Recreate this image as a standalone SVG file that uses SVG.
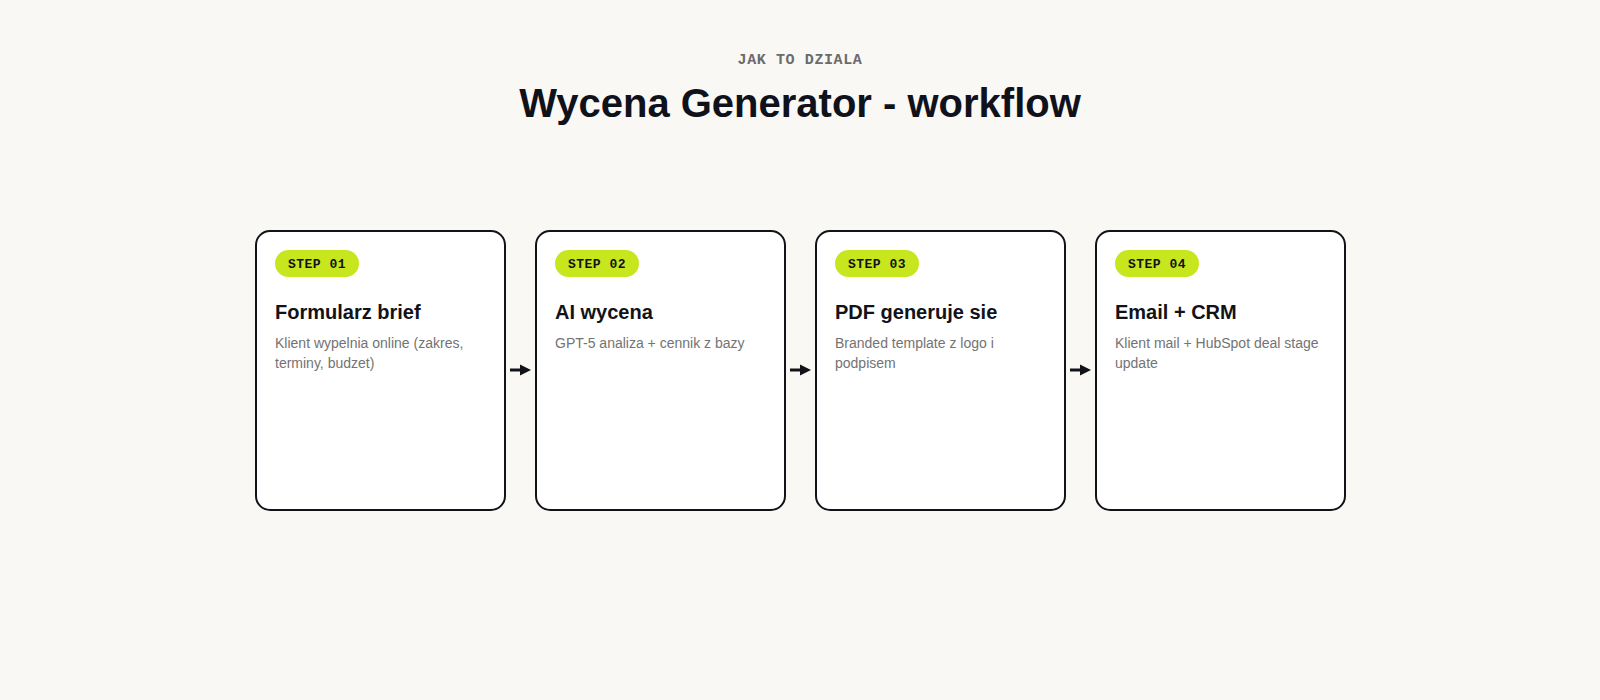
<svg xmlns="http://www.w3.org/2000/svg" width="1600" height="700" viewBox="0 0 1600 700">
<defs>
<style>
.bg{fill:#f9f8f5}
.card{fill:#ffffff;stroke:#111318;stroke-width:2}
.badge{fill:#c8e61e}
.btxt{font-family:"Liberation Mono","DejaVu Sans Mono",monospace;font-weight:bold;font-size:13px;fill:#111318;letter-spacing:0.5px}
.ttl{font-family:"Liberation Sans",Arial,sans-serif;font-weight:bold;font-size:20px;fill:#111318}
.desc{font-family:"Liberation Sans",Arial,sans-serif;font-size:14px;fill:#737373}
.kicker{font-family:"Liberation Mono","DejaVu Sans Mono",monospace;font-weight:bold;font-size:15px;fill:#6b6b6b;letter-spacing:0.6px}
.head{font-family:"Liberation Sans",Arial,sans-serif;font-weight:bold;font-size:40px;fill:#0f121a}
.conn{stroke:#111318;stroke-width:3;fill:none}
.ah{fill:#111318}
</style>
</defs>
<rect class="bg" x="0" y="0" width="1600" height="700"/>
<g id="header">
<text class="kicker" x="800" y="64" text-anchor="middle">JAK TO DZIALA</text>
<text class="head" x="800" y="117" text-anchor="middle">Wycena Generator - workflow</text>
</g>
<g id="connectors">
<line class="conn" x1="510" y1="370" x2="522" y2="370"/>
<polygon class="ah" points="520,364.5 531,370 520,375.5"/>
<line class="conn" x1="790" y1="370" x2="802" y2="370"/>
<polygon class="ah" points="800,364.5 811,370 800,375.5"/>
<line class="conn" x1="1070" y1="370" x2="1082" y2="370"/>
<polygon class="ah" points="1080,364.5 1091,370 1080,375.5"/>
</g>
<g id="step1">
<rect class="card" x="256" y="231" width="249" height="279" rx="14"/>
<rect class="badge" x="275" y="250" width="84" height="27" rx="13.5"/>
<text class="btxt" x="317" y="267.5" text-anchor="middle">STEP 01</text>
<text class="ttl" x="275" y="319">Formularz brief</text>
<text class="desc" x="275" y="347.5">Klient wypelnia online (zakres,</text>
<text class="desc" x="275" y="367.5">terminy, budzet)</text>
</g>
<g id="step2">
<rect class="card" x="536" y="231" width="249" height="279" rx="14"/>
<rect class="badge" x="555" y="250" width="84" height="27" rx="13.5"/>
<text class="btxt" x="597" y="267.5" text-anchor="middle">STEP 02</text>
<text class="ttl" x="555" y="319">AI wycena</text>
<text class="desc" x="555" y="347.5">GPT-5 analiza + cennik z bazy</text>
</g>
<g id="step3">
<rect class="card" x="816" y="231" width="249" height="279" rx="14"/>
<rect class="badge" x="835" y="250" width="84" height="27" rx="13.5"/>
<text class="btxt" x="877" y="267.5" text-anchor="middle">STEP 03</text>
<text class="ttl" x="835" y="319">PDF generuje sie</text>
<text class="desc" x="835" y="347.5">Branded template z logo i</text>
<text class="desc" x="835" y="367.5">podpisem</text>
</g>
<g id="step4">
<rect class="card" x="1096" y="231" width="249" height="279" rx="14"/>
<rect class="badge" x="1115" y="250" width="84" height="27" rx="13.5"/>
<text class="btxt" x="1157" y="267.5" text-anchor="middle">STEP 04</text>
<text class="ttl" x="1115" y="319">Email + CRM</text>
<text class="desc" x="1115" y="347.5">Klient mail + HubSpot deal stage</text>
<text class="desc" x="1115" y="367.5">update</text>
</g>
</svg>
